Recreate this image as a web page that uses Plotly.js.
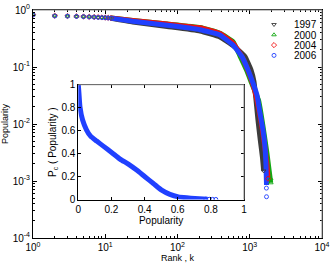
<!DOCTYPE html>
<html>
<head>
<meta charset="utf-8">
<script src="https://cdn.plot.ly/plotly-3.0.1.min.js"></script>
<style>html,body{margin:0;padding:0;background:#fff;}#chart{width:332px;height:265px;}</style>
</head>
<body>
<div id="chart"></div>
<script>
// ---- data ----
const seriesNames = ["1997", "2000", "2004", "2006"];

// discrete head / tail markers (rank k, popularity)
const markRank1997 = [1,2,3,4,5,6,7,8,9,10,11,12,1560];
const markPop1997  = [0.82,0.79,0.78,0.77,0.76,0.755,0.75,0.74,0.735,0.73,0.722,0.715,0.0015];
const markRank2000 = [1,2,3,4,5,6,7,8,9,10,11,12,1950,1960];
const markPop2000  = [0.82,0.79,0.78,0.775,0.765,0.76,0.755,0.745,0.74,0.735,0.73,0.725,0.0011,0.00093];
const markRank2004 = [1,2,3,4,5,6,7,8,9,10,11,12,1790];
const markPop2004  = [0.83,0.795,0.785,0.775,0.77,0.76,0.755,0.75,0.74,0.735,0.73,0.725,0.0011];
const markRank2006 = [1,2,3,4,5,6,7,8,9,10,11,12,1700,1706];
const markPop2006  = [0.82,0.785,0.78,0.77,0.765,0.755,0.75,0.74,0.735,0.73,0.725,0.72,0.00075,0.00053];

// dense part of each curve (rank k, popularity)
const bandRank1997 = [12,24,72,205,387,586,860,1040,1145,1221,1300,1400,1500,1560];
const bandPop1997  = [0.715,0.616,0.513,0.428,0.336,0.238,0.152,0.089,0.055,0.0263,0.0117,0.0052,0.0026,0.0015];
const bandRank2000 = [12,24,72,205,387,586,740,900,1090,1320,1440,1590,1740,1850,1950];
const bandPop2000  = [0.725,0.654,0.568,0.493,0.390,0.278,0.152,0.089,0.048,0.0263,0.0145,0.0064,0.0029,0.00157,0.00093];
const bandRank2004 = [12,24,72,205,387,586,757,916,1074,1221,1365,1500,1624,1733,1788];
const bandPop2004  = [0.725,0.654,0.568,0.487,0.387,0.264,0.163,0.096,0.055,0.031,0.0156,0.0078,0.0038,0.0019,0.00113];
const bandRank2006 = [12,24,72,205,387,586,781,946,1109,1259,1386,1524,1624,1678,1706];
const bandPop2006  = [0.72,0.633,0.539,0.451,0.364,0.243,0.152,0.089,0.052,0.032,0.0156,0.0078,0.0040,0.0019,0.00085];

// inset: cumulative distribution P_c(popularity)
const insetPop = [0,0.004,0.010,0.026,0.050,0.074,0.111,0.151,0.201,0.252,0.302,0.352,0.402,0.453,0.503,0.553,0.604,0.654,0.704,0.755,0.78];
const insetPc  = [1.0,0.924,0.808,0.692,0.605,0.552,0.509,0.465,0.410,0.352,0.308,0.256,0.198,0.140,0.081,0.044,0.023,0.015,0.009,0.004,0.002];
const insetTailPop = [0.77,0.79,0.81,0.83];
const insetTailPc  = [0.003,0.002,0.001,0.0005];

const xTickVals = [1,10,100,1000,10000];
const xTickText = ["10<sup>0</sup>","10<sup>1</sup>","10<sup>2</sup>","10<sup>3</sup>","10<sup>4</sup>"];
const yTickVals = [0.0001,0.001,0.01,0.1,1];
const yTickText = ["10<sup>-4</sup>","10<sup>-3</sup>","10<sup>-2</sup>","10<sup>-1</sup>","10<sup>0</sup>"];

// ---- styles ----
const colors  = ["#3c3c3c","#12a812","#f01010","#2040ff"];
const symbols = ["triangle-down-open","triangle-up-open","diamond-open","circle-open"];
const legendIds = ["legend","legend2","legend3","legend4"];
const bandR = [bandRank1997,bandRank2000,bandRank2004,bandRank2006];
const bandP = [bandPop1997,bandPop2000,bandPop2004,bandPop2006];
const markR = [markRank1997,markRank2000,markRank2004,markRank2006];
const markP = [markPop1997,markPop2000,markPop2004,markPop2006];

const traces = [];
for (let i = 0; i < 4; i++) {
  traces.push({
    x: bandR[i], y: bandP[i], type: "scatter", mode: "lines",
    line: {color: colors[i], width: 5, shape: "spline", smoothing: 0.35},
    legendgroup: seriesNames[i], showlegend: false, hoverinfo: "skip",
    xaxis: "x", yaxis: "y"
  });
}
for (let i = 0; i < 4; i++) {
  traces.push({
    x: markR[i], y: markP[i], type: "scatter", mode: "markers",
    name: seriesNames[i], legendgroup: seriesNames[i], legend: legendIds[i],
    marker: {symbol: symbols[i], size: 4, color: colors[i], line: {width: 0.9, color: colors[i]}},
    xaxis: "x", yaxis: "y"
  });
}
traces.push({
  x: insetPop, y: insetPc, type: "scatter", mode: "lines",
  line: {color: "#2040ff", width: 5, shape: "spline", smoothing: 0.5},
  showlegend: false, xaxis: "x2", yaxis: "y2"
});
traces.push({
  x: insetTailPop, y: insetTailPc, type: "scatter", mode: "markers",
  marker: {symbol: "circle-open", size: 4, color: "#2040ff", line: {width: 1}},
  showlegend: false, xaxis: "x2", yaxis: "y2"
});

function minorLog(lo, hi) {
  const v = [];
  for (let e = lo; e < hi; e++) for (let m = 2; m <= 9; m++) v.push(m * Math.pow(10, e));
  return v;
}

const fam = "Liberation Sans, Arial, sans-serif";
const titleFont = {family: fam, size: 9, color: "#000"};
const insetTitleFont = {family: fam, size: 10, color: "#000"};
const L = 33, R = 322, T = 10, B = 238;
const inL = 78.3, inR = 244, inT = 84.7, inB = 199.5;
const rowGap = 10.3 / (B - T);

const layout = {
  width: 332, height: 265,
  margin: {l: L, r: 332 - R, t: T, b: 265 - B, pad: 0},
  paper_bgcolor: "#fff", plot_bgcolor: "#fff",
  font: {family: fam, size: 10, color: "#000"},
  showlegend: true,
  xaxis: {
    type: "log", range: [0, 4], tickmode: "array", tickvals: xTickVals, ticktext: xTickText,
    ticks: "inside", ticklen: 4, tickcolor: "#000", showline: true, linecolor: "#000", linewidth: 1,
    mirror: "ticks", showgrid: false, zeroline: false,
    minor: {tickmode: "array", tickvals: minorLog(0, 4), ticks: "inside", ticklen: 2, tickcolor: "#000", showgrid: false},
    title: {text: "Rank , k", font: titleFont, standoff: 2}, automargin: false
  },
  yaxis: {
    type: "log", range: [-4, 0], tickmode: "array", tickvals: yTickVals, ticktext: yTickText,
    ticks: "inside", ticklen: 4, tickcolor: "#000", showline: true, linecolor: "#000", linewidth: 1,
    mirror: "ticks", showgrid: false, zeroline: false,
    minor: {tickmode: "array", tickvals: minorLog(-4, 0), ticks: "inside", ticklen: 2, tickcolor: "#000", showgrid: false},
    title: {text: "Popularity", font: titleFont, standoff: 3}, automargin: false
  },
  xaxis2: {
    domain: [(inL - L) / (R - L), (inR - L) / (R - L)], anchor: "y2", range: [0, 1],
    tickmode: "linear", tick0: 0, dtick: 0.2, ticks: "inside", ticklen: 3, tickcolor: "#000",
    showline: true, linecolor: "#000", mirror: "ticks", showgrid: false, zeroline: false,
    title: {text: "Popularity", font: insetTitleFont, standoff: 0}, automargin: false
  },
  yaxis2: {
    domain: [(B - inB) / (B - T), (B - inT) / (B - T)], anchor: "x2", range: [0, 1],
    tickmode: "linear", tick0: 0, dtick: 0.2, ticks: "inside", ticklen: 3, tickcolor: "#000",
    showline: true, linecolor: "#000", mirror: "ticks", showgrid: false, zeroline: false,
    title: {text: "P<sub>c</sub> ( Popularity )", font: insetTitleFont, standoff: 2}, automargin: false
  },
  shapes: [
    {type: "rect", xref: "paper", yref: "paper",
     x0: (inL - L) / (R - L), x1: (inR - L) / (R - L), y0: (B - inB) / (B - T), y1: (B - inT) / (B - T),
     fillcolor: "#fff", line: {width: 0}, layer: "below"},
    {type: "line", xref: "paper", yref: "paper", x0: 0, x1: 1, y0: 1, y1: 1, line: {color: "#8a8a8a", width: 1}, layer: "above"},
    {type: "line", xref: "paper", yref: "paper", x0: 1, x1: 1, y0: 0, y1: 1, line: {color: "#8a8a8a", width: 1}, layer: "above"},
    {type: "line", xref: "x2 domain", yref: "y2 domain", x0: 0, x1: 1, y0: 1, y1: 1, line: {color: "#8a8a8a", width: 1}, layer: "above"},
    {type: "line", xref: "x2 domain", yref: "y2 domain", x0: 1, x1: 1, y0: 0, y1: 1, line: {color: "#8a8a8a", width: 1}, layer: "above"}
  ]
};
for (let i = 0; i < 4; i++) {
  layout[legendIds[i]] = {
    x: 1, xanchor: "right", y: 1 - i * rowGap, yanchor: "top",
    bgcolor: "rgba(0,0,0,0)", borderwidth: 0, itemwidth: 30,
    font: {family: fam, size: 10, color: "#000"}
  };
}

Plotly.newPlot("chart", traces, layout, {displayModeBar: false});
</script>
</body>
</html>
